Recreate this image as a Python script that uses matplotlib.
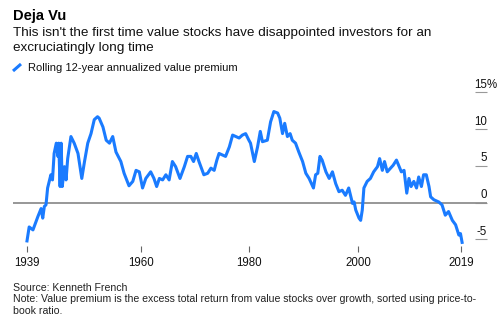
import matplotlib

matplotlib.use("Agg")
import matplotlib.pyplot as plt
import matplotlib.transforms as mtransforms
from matplotlib.lines import Line2D

plt.rcParams["font.family"] = ["Liberation Sans", "DejaVu Sans"]

# Rolling 12-year annualized value premium (%)
years = [
    1939.0, 1939.4, 1940.1, 1941.0, 1941.6, 1941.9, 1942.2, 1942.5, 1942.8, 1943.4,
    1943.7, 1944.0, 1944.4, 1944.7, 1944.85, 1945.1, 1945.3, 1945.5, 1945.9, 1946.2,
    1946.5, 1947.1, 1947.7, 1948.4, 1949.1, 1949.6, 1950.2, 1950.8, 1951.4, 1952.0,
    1952.3, 1953.0, 1953.6, 1954.2, 1954.8, 1955.4, 1956.3, 1956.9, 1957.8, 1958.5,
    1959.1, 1959.7, 1960.0, 1960.3, 1960.9, 1961.8, 1962.4, 1962.9, 1963.4, 1964.0,
    1964.6, 1965.2, 1965.8, 1966.4, 1967.2, 1968.0, 1968.6, 1969.2, 1969.7, 1970.2,
    1970.7, 1971.6, 1972.3, 1972.9, 1973.5, 1974.0, 1974.4, 1975.0, 1975.6, 1976.3,
    1976.9, 1977.5, 1978.1, 1978.7, 1979.3, 1979.9, 1980.2, 1980.9, 1981.5, 1982.0,
    1982.4, 1983.3, 1983.9, 1984.5, 1985.2, 1985.6, 1986.1, 1986.5, 1987.0, 1987.5,
    1987.9, 1988.5, 1989.1, 1989.8, 1990.4, 1991.0, 1991.8, 1992.2, 1992.6, 1993.0,
    1993.4, 1994.1, 1994.7, 1995.3, 1995.9, 1996.5, 1997.1, 1997.7, 1998.3, 1999.0,
    1999.3, 1999.6, 2000.2, 2000.5, 2000.8, 2001.1, 2001.7, 2002.3, 2002.9, 2003.6,
    2004.0, 2004.5, 2004.9, 2005.4, 2006.0, 2006.5, 2007.1, 2007.5, 2008.0, 2008.5,
    2009.0, 2009.4, 2009.8, 2010.3, 2010.8, 2011.2, 2011.7, 2012.1, 2012.6, 2013.1,
    2013.4, 2014.0, 2014.9, 2015.5, 2016.1, 2016.7, 2017.4, 2018.0, 2018.6, 2018.9,
    2019.2,
]
premium = [
    -5.2, -3.3, -3.7, -1.9, -0.8, -2.1, -0.5, -0.3, 2.0, 3.8,
    3.1, 6.7, 8.1, 6.3, 8.1, 2.2, 8.1, 2.2, 4.9, 3.1,
    6.0, 9.0, 8.1, 6.7, 3.3, 5.6, 8.1, 9.4, 11.3, 11.7,
    11.5, 10.3, 8.5, 8.1, 9.0, 6.9, 5.6, 4.0, 2.3, 2.9,
    4.4, 4.2, 3.1, 2.0, 3.3, 4.2, 3.3, 2.2, 3.3, 3.1,
    3.8, 3.1, 5.6, 4.9, 3.3, 4.9, 6.3, 6.3, 5.6, 6.7,
    5.6, 3.8, 4.0, 4.7, 4.4, 5.8, 6.7, 6.5, 6.3, 7.6,
    9.2, 9.0, 8.8, 9.2, 9.4, 8.5, 8.1, 5.6, 7.6, 9.7,
    8.3, 8.5, 11.0, 12.4, 12.2, 11.5, 9.4, 10.8, 9.0, 9.4,
    8.5, 8.1, 6.9, 5.6, 4.0, 3.3, 2.0, 3.8, 4.0, 6.3,
    5.8, 4.2, 3.3, 4.2, 2.6, 1.5, 1.7, 1.0, 2.0, -0.1,
    0.1, -1.0, -2.1, -2.4, -1.0, 2.0, 2.9, 3.3, 4.2, 4.9,
    6.0, 4.4, 5.6, 4.2, 4.7, 5.1, 5.8, 5.1, 4.2, 4.4,
    1.3, 3.3, 2.2, 2.9, 2.0, 3.5, 2.2, 3.8, 3.8, 2.2,
    0.8, 0.4, 0.1, -0.3, -1.7, -1.2, -2.4, -3.0, -4.4, -4.2,
    -5.4,
]

x_ticks = [1939, 1960, 1980, 2000, 2019]
y_ticks = [15, 10, 5, 0, -5]
y_tick_labels = ["15", "10", "5", "0", "-5"]

BLUE = "#1a7bff"
W, H = 500, 322

fig = plt.figure(figsize=(W / 100, H / 100), dpi=100)


def fy(px):
    # pixel row (from top) -> figure fraction
    return 1 - px / H


ax = fig.add_axes([13 / W, fy(246), (487 - 13) / W, (246 - 75) / H])
ax.plot(years, premium, color=BLUE, lw=2.2, solid_joinstyle="round", zorder=3, clip_on=False)
ax.axhline(0, color="#8f8f8f", lw=1.3, zorder=2)

ax.set_xlim(1936.42, 2023.79)
ax.set_ylim(-5.891, 17.374)
for s in ax.spines.values():
    s.set_visible(False)

ax.set_xticks(x_ticks)
ax.set_xticklabels([str(t) for t in x_ticks])
ax.tick_params(axis="x", direction="out", length=4.3, width=0.8, color="#666666",
               labelsize=8.3, pad=3.5, labelcolor="#111111")

ax.yaxis.tick_right()
ax.set_yticks(y_ticks)
ax.set_yticklabels([])
ax.tick_params(axis="y", direction="in", length=8.6, width=0.8, color="#999999")

# y labels sit above their tick lines, right-aligned to the axes edge
off = mtransforms.offset_copy(ax.get_yaxis_transform(), fig=fig, y=7.5, units="dots")
for v, lab in zip(y_ticks, y_tick_labels):
    ax.text(1.0, v, lab, transform=off, ha="right", va="center", fontsize=8.3, color="#111111")
ax.text(1.0, y_ticks[0], "%", transform=off, ha="left", va="center", fontsize=8.3, color="#111111")

# titles
fig.text(13 / W, fy(20), "Deja Vu", fontsize=10.5, fontweight="bold", color="#000000")
fig.text(13 / W, fy(36), "This isn't the first time value stocks have disappointed investors for an",
         fontsize=9.7, color="#111111")
fig.text(13 / W, fy(51.5), "excruciatingly long time", fontsize=9.7, color="#111111")

# legend
fig.add_artist(Line2D([13 / W, 21 / W], [fy(71), fy(64)], color=BLUE, lw=2.2,
                      transform=fig.transFigure, solid_capstyle="butt"))
fig.text(28 / W, fy(71), "Rolling 12-year annualized value premium", fontsize=8.0, color="#111111")

# footer
fig.text(13 / W, fy(291), "Source: Kenneth French", fontsize=7.6, color="#222222")
fig.text(13 / W, fy(302.5),
         "Note: Value premium is the excess total return from value stocks over growth, sorted using price-to-",
         fontsize=7.6, color="#222222")
fig.text(13 / W, fy(313.5), "book ratio.", fontsize=7.6, color="#222222")

fig.savefig("out.png", dpi=100)
